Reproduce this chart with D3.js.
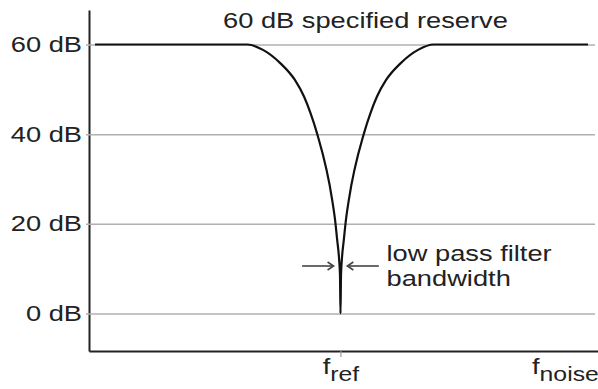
<!DOCTYPE html>
<html>
<head>
<meta charset="utf-8">
<script src="https://cdn.jsdelivr.net/npm/d3@7"></script>
<style>
  html, body { margin: 0; padding: 0; background: #fff; }
  svg { display: block; }
  text { font-family: "Liberation Sans", Arial, sans-serif; fill: #222; }
</style>
</head>
<body>
<div id="chart"></div>
<script>
// ---- data ----
const yTicks = [0, 20, 40, 60];
const yTickLabels = ["0 dB", "20 dB", "40 dB", "60 dB"];
const xTickKeys = ["ref", "noise"];
const xTickPositions = [49.4, 93.5];          // relative frequency units
const curveFreq = [1.18, 31.14, 34.18, 37.62, 40.45, 42.24, 43.52, 44.77, 47.78, 48.37, 48.76, 49.15, 49.31,
                   49.41,
                   49.51, 49.67, 50.06, 50.45, 51.04, 54.05, 55.30, 56.58, 58.37, 61.20, 64.64, 67.68, 98.03];
const curveDb   = [60, 60, 58.8, 55.8, 52.1, 48.4, 44.7, 40.3, 25.3, 20.6, 16.4, 11.9, 8.6,
                   0,
                   8.6, 11.9, 16.4, 20.6, 25.3, 40.3, 44.7, 48.4, 52.1, 55.8, 58.8, 60, 60];
const titleText = "60 dB specified reserve";
const noteLines = ["low pass filter", "bandwidth"];
const bandwidthHalf = 1.35;   // arrow tip offset (freq units)
const noteDb = 10.6;          // arrow height (dB)

// ---- layout ----
const W = 598, H = 389;
const SX = 1.24;  // horizontal text stretch seen in the reference
const svg = d3.select("#chart").append("svg").attr("width", W).attr("height", H);

const x = d3.scaleLinear().domain([0, 100]).range([89, 598]);
const y = d3.scaleLinear().domain([-8.36, 67.7]).range([351, 10]);

// y axis with gridlines
const yAxis = d3.axisLeft(y)
  .tickValues(yTicks)
  .tickFormat((d, i) => yTickLabels[i])
  .tickSizeInner(-(595 - 89))
  .tickSizeOuter(0)
  .tickPadding(7);

const gy = svg.append("g").attr("transform", `translate(${x(0)},0)`).call(yAxis);
gy.select(".domain").attr("stroke", "#222").attr("stroke-width", 2);
gy.selectAll(".tick line").attr("x1", -3).attr("stroke", "#b0b0b0").attr("stroke-width", 1.5);
gy.selectAll(".tick text")
  .attr("x", 0)
  .attr("transform", "translate(-7,0) scale(" + SX + ",1)")
  .style("font-size", "22px")
  .attr("fill", "#222");

// x axis
const xAxis = d3.axisBottom(x)
  .tickValues(xTickPositions)
  .tickFormat("")
  .tickSizeInner(6)
  .tickSizeOuter(0);
const gx = svg.append("g").attr("transform", `translate(0,${y(-8.36)})`).call(xAxis);
gx.select(".domain").attr("stroke", "#222").attr("stroke-width", 2.2);
gx.selectAll(".tick line")
  .attr("stroke", "#999").attr("stroke-width", 1.2)
  .attr("opacity", (d, i) => i === 0 ? 1 : 0);
gx.selectAll(".tick").each(function (d, i) {
  const t = d3.select(this).append("text")
    .attr("transform", "translate(0,22.5) scale(" + SX + ",1)")
    .attr("text-anchor", "middle")
    .attr("fill", "#222");
  t.append("tspan").style("font-size", "22px").text("f");
  t.append("tspan").style("font-size", "20px").attr("dy", 7).text(xTickKeys[i]);
});

// curve
const line = d3.line()
  .x((d, i) => x(curveFreq[i]))
  .y((d) => y(d))
  .curve(d3.curveMonotoneX);
svg.append("path")
  .datum(curveDb)
  .attr("d", line)
  .attr("fill", "none")
  .attr("stroke", "#111")
  .attr("stroke-width", 2.2);

// title
svg.append("text")
  .attr("transform", "translate(223,28) scale(" + SX + ",1)")
  .style("font-size", "22px")
  .text(titleText);

// bandwidth arrows
const fref = xTickPositions[0];
const ay = y(noteDb);
const arrows = [
  { tip: x(fref - bandwidthHalf), tail: x(fref - bandwidthHalf) - 31.5, dir: 1 },
  { tip: x(fref + bandwidthHalf), tail: x(fref + bandwidthHalf) + 31.5, dir: -1 }
];
arrows.forEach(a => {
  svg.append("line")
    .attr("x1", a.tail).attr("x2", a.tip - a.dir * 1)
    .attr("y1", ay).attr("y2", ay)
    .attr("stroke", "#444").attr("stroke-width", 1.6);
  svg.append("path")
    .attr("d", `M${a.tip - a.dir * 6},${ay - 4} L${a.tip},${ay} L${a.tip - a.dir * 6},${ay + 4}`)
    .attr("fill", "none").attr("stroke", "#444").attr("stroke-width", 1.6);
});

// note text
noteLines.forEach((s, i) => {
  svg.append("text")
    .attr("transform", `translate(386.5,${261 + i * 25}) scale(${SX},1)`)
    .style("font-size", "22px")
    .text(s);
});
</script>
</body>
</html>
